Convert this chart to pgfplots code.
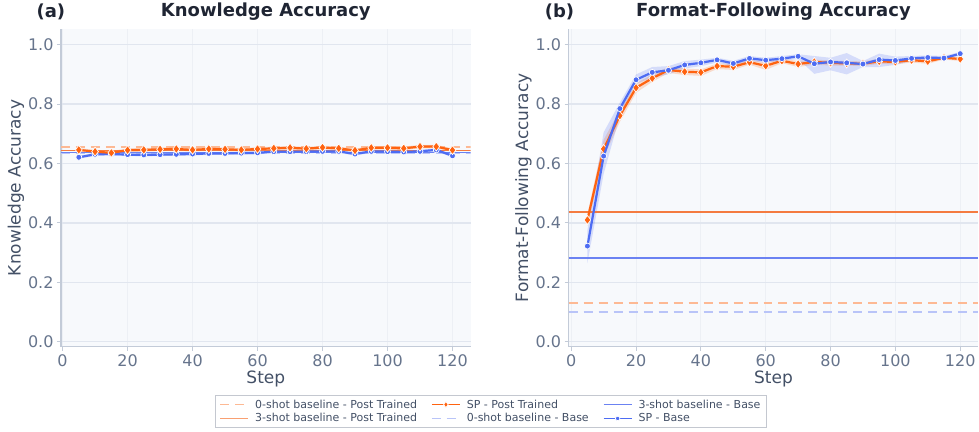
\documentclass[border=0pt]{standalone}
\usepackage{fontspec}
\setmainfont{DejaVu Sans}
\usepackage{pgfplots}
\usepackage{pgfplotstable}
\usepgfplotslibrary{fillbetween}
\pgfplotsset{compat=1.18}

\definecolor{bgc}{HTML}{F7F9FC}
\definecolor{hgrid}{HTML}{E1E6EF}
\definecolor{vgrid}{HTML}{EDF0F5}
\definecolor{axc}{HTML}{C3CBD8}
\definecolor{tickc}{HTML}{66748C}
\definecolor{labc}{HTML}{435066}
\definecolor{titc}{HTML}{1F2533}
\definecolor{legc}{HTML}{C4C8D0}
\definecolor{spo}{HTML}{FF6310}
\definecolor{spb}{HTML}{4D6CF3}
\definecolor{tso}{HTML}{F47B40}
\definecolor{zso}{HTML}{FDB994}
\definecolor{tsb}{HTML}{6B82F2}
\definecolor{zsb}{HTML}{B9C4F8}

\pgfplotstableread{
x po pol pou bo bol bou
5 0.646 0.640 0.652 0.621 0.616 0.626
10 0.640 0.634 0.646 0.631 0.626 0.636
15 0.636 0.630 0.642 0.632 0.627 0.637
20 0.645 0.639 0.651 0.630 0.625 0.635
25 0.646 0.640 0.652 0.629 0.624 0.634
30 0.648 0.642 0.654 0.630 0.625 0.635
35 0.649 0.643 0.655 0.631 0.626 0.636
40 0.646 0.640 0.652 0.632 0.627 0.637
45 0.649 0.643 0.655 0.634 0.629 0.639
50 0.648 0.642 0.654 0.634 0.629 0.639
55 0.646 0.640 0.652 0.635 0.630 0.640
60 0.649 0.643 0.655 0.636 0.631 0.641
65 0.651 0.645 0.657 0.640 0.635 0.645
70 0.653 0.647 0.659 0.640 0.635 0.645
75 0.650 0.644 0.656 0.640 0.635 0.645
80 0.654 0.648 0.660 0.641 0.636 0.646
85 0.651 0.645 0.657 0.641 0.636 0.646
90 0.644 0.638 0.650 0.632 0.627 0.637
95 0.653 0.647 0.659 0.641 0.636 0.646
100 0.653 0.647 0.659 0.640 0.635 0.645
105 0.651 0.645 0.657 0.639 0.634 0.644
110 0.657 0.651 0.663 0.641 0.636 0.646
115 0.657 0.651 0.663 0.646 0.641 0.651
120 0.645 0.639 0.651 0.626 0.621 0.631
}\kna

\pgfplotstableread{
x po pol pou bo bol bou
5 0.410 0.390 0.430 0.322 0.265 0.375
10 0.649 0.620 0.680 0.625 0.565 0.705
15 0.761 0.740 0.780 0.785 0.760 0.805
20 0.855 0.838 0.870 0.882 0.868 0.900
25 0.887 0.875 0.900 0.907 0.890 0.925
30 0.915 0.905 0.925 0.914 0.900 0.928
35 0.909 0.898 0.920 0.932 0.920 0.945
40 0.907 0.895 0.917 0.939 0.928 0.950
45 0.928 0.918 0.937 0.949 0.940 0.956
50 0.926 0.915 0.936 0.937 0.928 0.946
55 0.941 0.933 0.950 0.954 0.945 0.962
60 0.929 0.915 0.940 0.948 0.940 0.956
65 0.946 0.938 0.953 0.953 0.945 0.962
70 0.935 0.925 0.945 0.961 0.952 0.968
75 0.942 0.933 0.950 0.936 0.902 0.962
80 0.939 0.930 0.947 0.942 0.914 0.956
85 0.937 0.930 0.945 0.939 0.900 0.972
90 0.936 0.928 0.944 0.935 0.925 0.945
95 0.944 0.936 0.952 0.950 0.925 0.970
100 0.942 0.934 0.950 0.947 0.932 0.960
105 0.948 0.940 0.955 0.954 0.945 0.962
110 0.944 0.936 0.952 0.957 0.950 0.964
115 0.956 0.950 0.962 0.955 0.948 0.962
120 0.952 0.945 0.958 0.970 0.964 0.976
}\ffa

\pgfplotsset{
  panel/.style={
    scale only axis, width=410pt, height=318pt,
    anchor=south west, clip mode=individual,
    ymin=-0.017, ymax=1.053,
    ytick={0,0.2,0.4,0.6,0.8,1},
    xtick={0,20,40,60,80,100,120},
    axis background/.style={fill=bgc},
    axis x line*=bottom, axis y line*=left,
    axis line style={axc, line width=1.2pt},
    tick align=outside, major tick length=4pt,
    tick style={axc, line width=1pt},
    grid=major,
    x grid style={vgrid, line width=0.8pt},
    y grid style={hgrid, line width=1.3pt},
    ticklabel style={font=\fontsize{16}{16}\selectfont, text=tickc},
    yticklabel style={/pgf/number format/fixed,/pgf/number format/fixed zerofill,/pgf/number format/precision=1},
    /pgf/number format/assume math mode=true,
    xlabel={Step},
    label style={font=\fontsize{17}{17}\selectfont, text=labc},
    xlabel style={at={(axis description cs:0.5,0)}, anchor=base, yshift=-37pt},
    ylabel style={at={(axis description cs:-0.11,0.5)}, anchor=center},
    title style={font=\bfseries\fontsize{18}{18}\selectfont, text=titc, at={(axis description cs:0.5,1)}, anchor=base, yshift=6pt},
    legend image code/.code={\draw[mark repeat=2,mark phase=2,##1] plot coordinates {(0pt,0pt) (14pt,0pt) (28pt,0pt)};},
  },
  spoline/.style={spo, line width=2.2pt, mark=diamond*, mark size=4.5pt, mark options={fill=spo, draw=white, line width=0.7pt, solid}},
  spbline/.style={spb, line width=2.2pt, mark=*, mark size=3pt, mark options={fill=spb, draw=white, line width=0.7pt, solid}},
  zsoline/.style={zso, line width=1.8pt, dash pattern=on 9pt off 6pt},
  tsoline/.style={tso, line width=1.2pt},
  zsbline/.style={zsb, line width=1.8pt, dash pattern=on 9pt off 6pt},
  tsbline/.style={tsb, line width=1.3pt},
}

\begin{document}
\begin{tikzpicture}

% ---------------- panel (a)
\begin{axis}[panel, at={(61pt,-347pt)}, xmin=-0.5, xmax=125.6,
  title={Knowledge Accuracy}, ylabel={Knowledge Accuracy},
  legend columns=3,
  legend style={at={(axis description cs:1.0495,-0.151)}, anchor=north,
    font=\fontsize{11}{13}\selectfont, text=labc, draw=legc, fill=white, line width=0.8pt,
    inner xsep=4pt, inner ysep=2.5pt, legend cell align=left,
    /tikz/every even column/.append style={column sep=12pt},
    /tikz/every odd column/.append style={column sep=4pt}},
]
\addplot[name path=aou, draw=none, forget plot] table[x=x, y=pou]{\kna};
\addplot[name path=aol, draw=none, forget plot] table[x=x, y=pol]{\kna};
\addplot[fill=spo, fill opacity=0.2, draw=none, forget plot] fill between[of=aou and aol];
\addplot[name path=abu, draw=none, forget plot] table[x=x, y=bou]{\kna};
\addplot[name path=abl, draw=none, forget plot] table[x=x, y=bol]{\kna};
\addplot[fill=spb, fill opacity=0.2, draw=none, forget plot] fill between[of=abu and abl];
\addplot[zsbline, forget plot] coordinates {(-0.5,0.634) (125.6,0.634)};
\addplot[tsbline, forget plot] coordinates {(-0.5,0.637) (125.6,0.637)};
\addplot[zsoline, forget plot] coordinates {(-0.5,0.655) (125.6,0.655)};
\addplot[tsoline, forget plot] coordinates {(-0.5,0.643) (125.6,0.643)};
\addplot[spbline, forget plot] table[x=x, y=bo]{\kna};
\addplot[spoline, forget plot] table[x=x, y=po]{\kna};
\node[anchor=base west, font=\bfseries\fontsize{18}{18}\selectfont, text=titc] at (axis description cs:-0.068,1.036) {(a)};
\addlegendimage{zsoline}
\addlegendentry{0-shot baseline - Post Trained}
\addlegendimage{spoline, line width=1.8pt, mark size=3pt}
\addlegendentry{SP - Post Trained}
\addlegendimage{tsbline}
\addlegendentry{3-shot baseline - Base}
\addlegendimage{tsoline, zso!60!tso, line width=1.8pt}
\addlegendentry{3-shot baseline - Post Trained}
\addlegendimage{zsbline}
\addlegendentry{0-shot baseline - Base}
\addlegendimage{spbline, line width=1.8pt, mark size=2.2pt}
\addlegendentry{SP - Base}
\end{axis}

% ---------------- panel (b)
\begin{axis}[panel, at={(569pt,-347pt)}, xmin=-0.8, xmax=125.6,
  title={Format-Following Accuracy}, ylabel={Format-Following Accuracy},
]
\addplot[name path=bou, draw=none, forget plot] table[x=x, y=pou]{\ffa};
\addplot[name path=bol, draw=none, forget plot] table[x=x, y=pol]{\ffa};
\addplot[fill=spo, fill opacity=0.2, draw=none, forget plot] fill between[of=bou and bol];
\addplot[name path=bbu, draw=none, forget plot] table[x=x, y=bou]{\ffa};
\addplot[name path=bbl, draw=none, forget plot] table[x=x, y=bol]{\ffa};
\addplot[fill=spb, fill opacity=0.2, draw=none, forget plot] fill between[of=bbu and bbl];
\addplot[zsoline, forget plot] coordinates {(-0.8,0.131) (125.6,0.131)};
\addplot[zsbline, forget plot] coordinates {(-0.8,0.100) (125.6,0.100)};
\addplot[tsoline, forget plot] coordinates {(-0.8,0.437) (125.6,0.437)};
\addplot[tsbline, forget plot] coordinates {(-0.8,0.282) (125.6,0.282)};
\addplot[spoline, forget plot] table[x=x, y=po]{\ffa};
\addplot[spbline, forget plot] table[x=x, y=bo]{\ffa};
\node[anchor=base west, font=\bfseries\fontsize{18}{18}\selectfont, text=titc] at (axis description cs:-0.0667,1.036) {(b)};
\end{axis}
\path (0pt,0pt) rectangle (979pt,-432pt);
\end{tikzpicture}
\end{document}
